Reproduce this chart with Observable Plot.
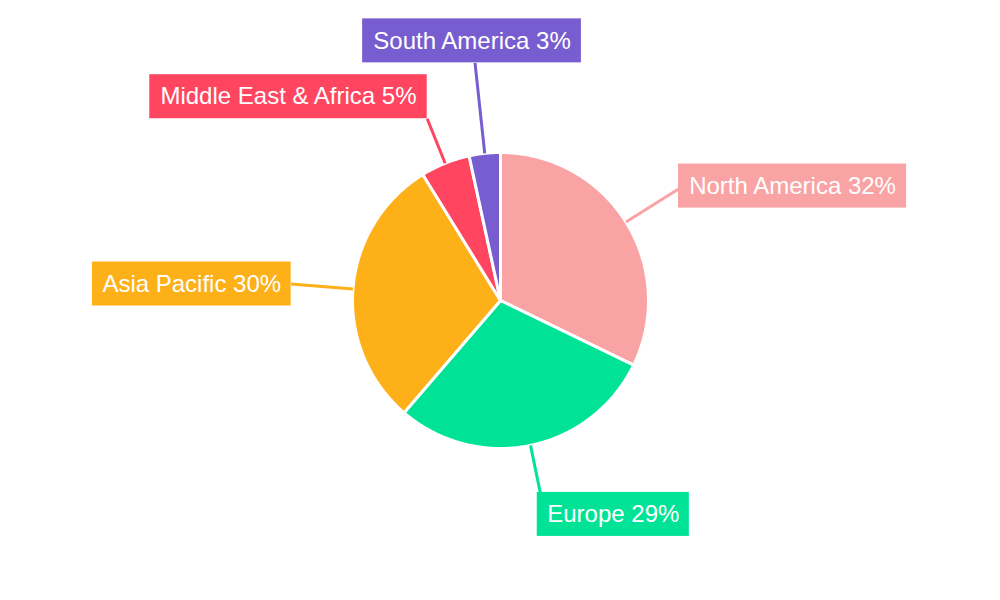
<!DOCTYPE html>
<html>
<head>
<meta charset="utf-8">
<script src="https://cdn.jsdelivr.net/npm/d3@7"></script>
<script src="https://cdn.jsdelivr.net/npm/@observablehq/plot@0.6"></script>
<style>
  html, body { margin: 0; padding: 0; background: #fff; }
  #chart { width: 1000px; height: 600px; }
</style>
</head>
<body>
<div id="chart"></div>
<script>
// ---- data ----
const regions = ["North America", "Europe", "Asia Pacific", "Middle East & Africa", "South America"];
const shares = [32.2, 29.1, 29.9, 5.4, 3.4];
const colors = ["#F9A3A4", "#00E396", "#FEB019", "#FF4560", "#775DD0"];

// ---- layout (pixels) ----
const W = 1000, H = 600, R = 148;               // pie radius in px
const lineEnd = [210, 196, 210, 196, 239];       // leader-line end radius per slice, px
const anchor = ["left", "topleft", "right", "bottomright", "bottom"];
const FONT = 24, PADX = 10, BOXH = 44;

const total = d3.sum(shares);
const u = 1 / R; // one pixel in data units

const wedgePts = [];
const leaders = [];
const boxes = [];
let acc = 0;
const ctx = document.createElement("canvas").getContext("2d");
ctx.font = `${FONT}px 'Liberation Sans', Arial, sans-serif`;

regions.forEach((name, i) => {
  const a0 = acc / total * 2 * Math.PI;
  acc += shares[i];
  const a1 = acc / total * 2 * Math.PI;
  wedgePts.push({name, x: 0, y: 0});
  const n = Math.max(4, Math.ceil((a1 - a0) / 0.01));
  for (let k = 0; k <= n; k++) {
    const a = a0 + (a1 - a0) * k / n;
    wedgePts.push({name, x: Math.sin(a), y: Math.cos(a)});
  }
  wedgePts.push({name, x: 0, y: 0});

  const am = (a0 + a1) / 2;
  const re = lineEnd[i] * u;
  const ex = Math.sin(am) * re, ey = Math.cos(am) * re;
  leaders.push({name, x1: Math.sin(am), y1: Math.cos(am), x2: ex, y2: ey});

  const label = `${name} ${Math.round(shares[i])}%`;
  const bw = (ctx.measureText(label).width + 2 * PADX) * u;
  const bh = BOXH * u;
  let x1, y1;
  switch (anchor[i]) {
    case "left": x1 = ex; y1 = ey - bh / 2 + 3 * u; break;
    case "right": x1 = ex - bw; y1 = ey - bh / 2; break;
    case "topleft": x1 = ex - 3 * u; y1 = ey - bh; break;
    case "bottomright": x1 = ex - bw; y1 = ey; break;
    case "bottom": x1 = ex - bw / 2 - 3 * u; y1 = ey; break;
  }
  boxes.push({name, label, x1, x2: x1 + bw, y1, y2: y1 + bh, cx: x1 + bw / 2, cy: y1 + bh / 2});
});

const chart = Plot.plot({
  width: W,
  height: H,
  margin: 0,
  x: {domain: [-W / 2 * u, W / 2 * u], axis: null},
  y: {domain: [-H / 2 * u, H / 2 * u], axis: null},
  color: {domain: regions, range: colors},
  marks: [
    Plot.line(wedgePts, {x: "x", y: "y", z: "name", fill: "name", stroke: "white", strokeWidth: 3, strokeLinejoin: "round", curve: "linear"}),
    Plot.link(leaders, {x1: "x1", y1: "y1", x2: "x2", y2: "y2", stroke: "name", strokeWidth: 3}),
    Plot.rect(boxes, {x1: "x1", x2: "x2", y1: "y1", y2: "y2", fill: "name"}),
    Plot.text(boxes, {x: "cx", y: "cy", text: "label", fill: "white", fontSize: FONT, fontFamily: "'Liberation Sans', Arial, sans-serif", textAnchor: "middle", lineAnchor: "middle"})
  ]
});
document.getElementById("chart").appendChild(chart);
</script>
</body>
</html>
